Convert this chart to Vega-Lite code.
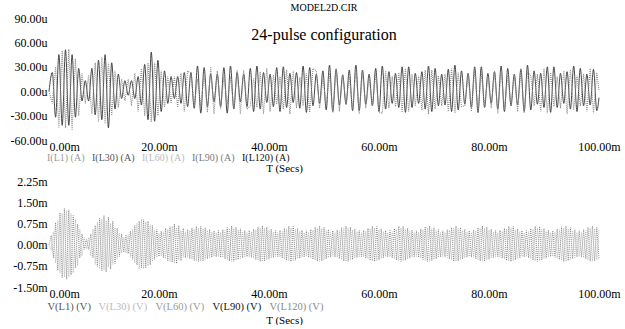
{
"$schema":"https://vega.github.io/schema/vega-lite/v6.json",
"background":"white",
"padding":{"left":10,"top":3,"right":0,"bottom":0},
"spacing":2,
"config":{"view":{"stroke":null},"font":"Liberation Serif"},
"resolve":{"scale":{"color":"independent"},"legend":{"color":"independent"}},
"datasets":{
"top":[
{"t":0,"a":0,"b":0},{"t":0.6,"a":23,"b":-15},{"t":1.2,"a":-32,"b":30},{"t":1.8,"a":45,"b":-45},{"t":2.4,"a":-42,"b":50},{"t":3,"a":51,"b":-45},{"t":3.6,"a":-42,"b":52},{"t":4.2,"a":45,"b":-48},{"t":4.8,"a":-32,"b":40},{"t":5.4,"a":28,"b":-30},{"t":6,"a":-12,"b":22},{"t":6.6,"a":13,"b":-15},{"t":7.2,"a":-12,"b":20},{"t":7.8,"a":28,"b":-28},{"t":8.4,"a":-29,"b":35},{"t":9,"a":38,"b":-38},{"t":9.6,"a":-35,"b":42},{"t":10.2,"a":45,"b":-40},{"t":10.8,"a":-45,"b":35},{"t":11.4,"a":35,"b":-30},{"t":12,"a":-22,"b":25},{"t":12.6,"a":21,"b":-20},{"t":13.2,"a":-9,"b":15},{"t":13.8,"a":13,"b":-12},{"t":14.4,"a":-5,"b":15},{"t":15,"a":13,"b":-18},{"t":15.6,"a":-9,"b":22},{"t":16.2,"a":18,"b":-25},{"t":16.8,"a":-17,"b":28},{"t":17.4,"a":33,"b":-30},{"t":18,"a":-35,"b":35},{"t":18.6,"a":48,"b":-38},{"t":19.2,"a":-37,"b":35},{"t":19.8,"a":38,"b":-30},{"t":20.4,"a":-25,"b":25},{"t":21,"a":25,"b":-20},{"t":21.6,"a":-15,"b":18},{"t":22.2,"a":18,"b":-15},{"t":22.8,"a":-9,"b":18},{"t":23.4,"a":18,"b":-20},{"t":24,"a":-15,"b":22},{"t":24.6,"a":23,"b":-25},{"t":25.2,"a":-19,"b":25},{"t":25.8,"a":23,"b":22},{"t":26.4,"a":-21,"b":-18},{"t":27,"a":31,"b":15},{"t":27.6,"a":-27,"b":-18},{"t":28.2,"a":29,"b":22},{"t":28.8,"a":-19,"b":-26},{"t":29.4,"a":21,"b":30},{"t":30,"a":-13,"b":-28},{"t":30.6,"a":21,"b":25},{"t":31.2,"a":-19,"b":-22},{"t":31.8,"a":29,"b":18},{"t":32.4,"a":-27,"b":-16},{"t":33,"a":31,"b":18},{"t":33.6,"a":-22,"b":-22},{"t":34.2,"a":23,"b":26},{"t":34.8,"a":-13,"b":-28},{"t":35.4,"a":21,"b":26},{"t":36,"a":-19,"b":-22},{"t":36.6,"a":28,"b":-18},{"t":37.2,"a":-25,"b":16},{"t":37.8,"a":31,"b":-20},{"t":38.4,"a":-22,"b":24},{"t":39,"a":23,"b":-28},{"t":39.6,"a":-14,"b":28},{"t":40.2,"a":21,"b":-25},{"t":40.8,"a":-19,"b":20},{"t":41.4,"a":29,"b":-16},{"t":42,"a":-25,"b":18},{"t":42.6,"a":30,"b":-22},{"t":43.2,"a":-20,"b":26},{"t":43.8,"a":22,"b":-28},{"t":44.4,"a":-14,"b":25},{"t":45,"a":23,"b":-21},{"t":45.6,"a":-21,"b":17},{"t":46.2,"a":31,"b":-18},{"t":46.8,"a":-26,"b":22},{"t":47.4,"a":29,"b":-26},{"t":48,"a":-18,"b":28},{"t":48.6,"a":21,"b":25},{"t":49.2,"a":-15,"b":-21},{"t":49.8,"a":25,"b":17},{"t":50.4,"a":-23,"b":-18},{"t":51,"a":32,"b":22},{"t":51.6,"a":-25,"b":-26},{"t":52.2,"a":27,"b":28},{"t":52.8,"a":-17,"b":-25},{"t":53.4,"a":20,"b":21},{"t":54,"a":-16,"b":-17},{"t":54.6,"a":26,"b":18},{"t":55.2,"a":-24,"b":-22},{"t":55.8,"a":32,"b":26},{"t":56.4,"a":-24,"b":-28},{"t":57,"a":26,"b":25},{"t":57.6,"a":-16,"b":-21},{"t":58.2,"a":21,"b":17},{"t":58.8,"a":-18,"b":-18},{"t":59.4,"a":28,"b":22},{"t":60,"a":-25,"b":-26},{"t":60.6,"a":31,"b":-27},{"t":61.2,"a":-22,"b":25},{"t":61.8,"a":24,"b":-21},{"t":62.4,"a":-15,"b":18},{"t":63,"a":22,"b":-19},{"t":63.6,"a":-20,"b":23},{"t":64.2,"a":30,"b":-26},{"t":64.8,"a":-26,"b":28},{"t":65.4,"a":30,"b":-25},{"t":66,"a":-20,"b":21},{"t":66.6,"a":22,"b":-18},{"t":67.2,"a":-15,"b":19},{"t":67.8,"a":24,"b":-23},{"t":68.4,"a":-22,"b":26},{"t":69,"a":31,"b":-28},{"t":69.6,"a":-25,"b":26},{"t":70.2,"a":28,"b":-22},{"t":70.8,"a":-18,"b":19},{"t":71.4,"a":21,"b":-18},{"t":72,"a":-17,"b":21},{"t":72.6,"a":27,"b":-25},{"t":73.2,"a":-25,"b":28},{"t":73.8,"a":32,"b":-27},{"t":74.4,"a":-23,"b":23},{"t":75,"a":25,"b":-19},{"t":75.6,"a":-16,"b":-18},{"t":76.2,"a":22,"b":21},{"t":76.8,"a":-20,"b":-25},{"t":77.4,"a":30,"b":28},{"t":78,"a":-26,"b":-27},{"t":78.6,"a":30,"b":23},{"t":79.2,"a":-20,"b":-19},{"t":79.8,"a":22,"b":18},{"t":80.4,"a":-15,"b":-21},{"t":81,"a":24,"b":25},{"t":81.6,"a":-22,"b":-28},{"t":82.2,"a":31,"b":27},{"t":82.8,"a":-25,"b":-23},{"t":83.4,"a":28,"b":19},{"t":84,"a":-18,"b":-18},{"t":84.6,"a":21,"b":21},{"t":85.2,"a":-17,"b":-25},{"t":85.8,"a":27,"b":28},{"t":86.4,"a":-25,"b":-27},{"t":87,"a":32,"b":23},{"t":87.6,"a":-23,"b":19},{"t":88.2,"a":25,"b":-18},{"t":88.8,"a":-16,"b":21},{"t":89.4,"a":22,"b":-25},{"t":90,"a":-20,"b":28},{"t":90.6,"a":30,"b":-27},{"t":91.2,"a":-26,"b":23},{"t":91.8,"a":30,"b":-19},{"t":92.4,"a":-20,"b":18},{"t":93,"a":22,"b":-21},{"t":93.6,"a":-15,"b":25},{"t":94.2,"a":24,"b":-28},{"t":94.8,"a":-22,"b":27},{"t":95.4,"a":31,"b":-23},{"t":96,"a":-25,"b":19},{"t":96.6,"a":28,"b":-18},{"t":97.2,"a":-18,"b":21},{"t":97.8,"a":21,"b":-25},{"t":98.4,"a":-17,"b":28},{"t":99,"a":27,"b":-27},{"t":99.6,"a":-24,"b":23},{"t":100,"a":-8,"b":0}
],
"bot":[
{"t":0,"c":0,"d":0},{"t":0.4,"c":0.33,"d":-0.2},{"t":0.8,"c":-0.47,"d":0.45},{"t":1.2,"c":0.78,"d":-0.65},{"t":1.6,"c":-0.92,"d":0.85},{"t":2,"c":1.13,"d":-1},{"t":2.4,"c":-1.17,"d":1.1},{"t":2.8,"c":1.28,"d":-1.15},{"t":3.2,"c":-1.22,"d":1.2},{"t":3.6,"c":1.23,"d":-1.15},{"t":4,"c":-1.07,"d":1.1},{"t":4.4,"c":1.03,"d":-1},{"t":4.8,"c":-0.82,"d":0.9},{"t":5.2,"c":0.73,"d":-0.75},{"t":5.6,"c":-0.47,"d":0.55},{"t":6,"c":0.38,"d":-0.4},{"t":6.4,"c":-0.17,"d":0.25},{"t":6.8,"c":0.18,"d":-0.15},{"t":7.2,"c":-0.17,"d":0.25},{"t":7.6,"c":0.38,"d":-0.4},{"t":8,"c":-0.47,"d":0.55},{"t":8.4,"c":0.68,"d":-0.7},{"t":8.8,"c":-0.77,"d":0.8},{"t":9.2,"c":0.93,"d":-0.85},{"t":9.6,"c":-0.92,"d":0.9},{"t":10,"c":1.03,"d":-0.9},{"t":10.4,"c":-0.97,"d":0.85},{"t":10.8,"c":0.98,"d":-0.8},{"t":11.2,"c":-0.87,"d":0.75},{"t":11.6,"c":0.83,"d":-0.7},{"t":12,"c":-0.67,"d":0.6},{"t":12.4,"c":0.58,"d":-0.5},{"t":12.8,"c":-0.42,"d":0.4},{"t":13.2,"c":0.38,"d":-0.3},{"t":13.6,"c":-0.27,"d":0.25},{"t":14,"c":0.33,"d":-0.3},{"t":14.4,"c":-0.32,"d":0.35},{"t":14.8,"c":0.48,"d":-0.45},{"t":15.2,"c":-0.52,"d":0.55},{"t":15.6,"c":0.68,"d":-0.65},{"t":16,"c":-0.72,"d":0.75},{"t":16.4,"c":0.83,"d":-0.85},{"t":16.8,"c":-0.82,"d":0.9},{"t":17.2,"c":0.88,"d":-0.85},{"t":17.6,"c":-0.82,"d":0.8},{"t":18,"c":0.83,"d":-0.75},{"t":18.4,"c":-0.72,"d":0.7},{"t":18.8,"c":0.68,"d":-0.6},{"t":19.2,"c":-0.52,"d":0.5},{"t":19.6,"c":0.53,"d":-0.45},{"t":20,"c":-0.42,"d":0.4},{"t":20.4,"c":0.48,"d":-0.4},{"t":20.8,"c":-0.47,"d":0.45},{"t":21.2,"c":0.58,"d":-0.5},{"t":21.6,"c":-0.57,"d":0.55},{"t":22,"c":0.63,"d":-0.6},{"t":22.4,"c":-0.62,"d":0.65},{"t":22.8,"c":0.73,"d":-0.65},{"t":23.2,"c":-0.67,"d":0.6},{"t":23.6,"c":0.68,"d":-0.55},{"t":24,"c":-0.57,"d":0.5},{"t":24.4,"c":0.58,"d":-0.45},{"t":24.8,"c":-0.47,"d":0.45},
{"t":25.2,"c":0.53,"d":-0.46},{"t":25.6,"c":-0.5,"d":0.49},{"t":26,"c":0.59,"d":-0.52},{"t":26.4,"c":-0.57,"d":0.56},{"t":26.8,"c":0.65,"d":-0.58},{"t":27.2,"c":-0.6,"d":0.59},{"t":27.6,"c":0.65,"d":-0.58},{"t":28,"c":-0.57,"d":0.56},{"t":28.4,"c":0.6,"d":-0.53},{"t":28.8,"c":-0.51,"d":0.5},{"t":29.2,"c":0.54,"d":-0.47},{"t":29.6,"c":-0.45,"d":0.44},{"t":30,"c":0.49,"d":-0.42},{"t":30.4,"c":-0.43,"d":0.42},{"t":30.8,"c":0.5,"d":-0.43},{"t":31.2,"c":-0.45,"d":0.44},{"t":31.6,"c":0.53,"d":-0.46},{"t":32,"c":-0.51,"d":0.5},{"t":32.4,"c":0.61,"d":-0.54},{"t":32.8,"c":-0.58,"d":0.57},{"t":33.2,"c":0.66,"d":-0.59},{"t":33.6,"c":-0.59,"d":0.58},{"t":34,"c":0.62,"d":-0.55},{"t":34.4,"c":-0.53,"d":0.52},{"t":34.8,"c":0.56,"d":-0.49},{"t":35.2,"c":-0.47,"d":0.46},{"t":35.6,"c":0.5,"d":-0.43},{"t":36,"c":-0.43,"d":0.42},{"t":36.4,"c":0.5,"d":-0.43},{"t":36.8,"c":-0.46,"d":0.45},{"t":37.2,"c":0.55,"d":-0.48},{"t":37.6,"c":-0.53,"d":0.52},{"t":38,"c":0.63,"d":-0.56},{"t":38.4,"c":-0.6,"d":0.59},{"t":38.8,"c":0.67,"d":-0.6},{"t":39.2,"c":-0.59,"d":0.58},{"t":39.6,"c":0.62,"d":-0.55},{"t":40,"c":-0.52,"d":0.51},{"t":40.4,"c":0.55,"d":-0.48},{"t":40.8,"c":-0.46,"d":0.45},{"t":41.2,"c":0.5,"d":-0.43},{"t":41.6,"c":-0.43,"d":0.42},{"t":42,"c":0.51,"d":-0.44},{"t":42.4,"c":-0.48,"d":0.47},{"t":42.8,"c":0.58,"d":-0.51},{"t":43.2,"c":-0.56,"d":0.55},{"t":43.6,"c":0.65,"d":-0.58},{"t":44,"c":-0.6,"d":0.59},{"t":44.4,"c":0.64,"d":-0.57},{"t":44.8,"c":-0.55,"d":0.54},{"t":45.2,"c":0.57,"d":-0.5},{"t":45.6,"c":-0.48,"d":0.47},{"t":46,"c":0.51,"d":-0.44},{"t":46.4,"c":-0.43,"d":0.42},{"t":46.8,"c":0.49,"d":-0.42},{"t":47.2,"c":-0.45,"d":0.44},{"t":47.6,"c":0.54,"d":-0.47},{"t":48,"c":-0.52,"d":0.51},{"t":48.4,"c":0.62,"d":-0.55},{"t":48.8,"c":-0.59,"d":0.58},{"t":49.2,"c":0.66,"d":-0.59},{"t":49.6,"c":-0.58,"d":0.57},{"t":50,"c":0.61,"d":-0.54},{"t":50.4,"c":-0.51,"d":0.5},{"t":50.8,"c":0.53,"d":-0.46},{"t":51.2,"c":-0.44,"d":0.43},{"t":51.6,"c":0.49,"d":-0.42},{"t":52,"c":-0.44,"d":0.43},{"t":52.4,"c":0.52,"d":-0.45},{"t":52.8,"c":-0.5,"d":0.49},{"t":53.2,"c":0.6,"d":-0.53},{"t":53.6,"c":-0.58,"d":0.57},{"t":54,"c":0.66,"d":-0.59},{"t":54.4,"c":-0.59,"d":0.58},{"t":54.8,"c":0.62,"d":-0.55},{"t":55.2,"c":-0.53,"d":0.52},{"t":55.6,"c":0.55,"d":-0.48},{"t":56,"c":-0.46,"d":0.45},{"t":56.4,"c":0.5,"d":-0.43},{"t":56.8,"c":-0.43,"d":0.42},{"t":57.2,"c":0.51,"d":-0.44},{"t":57.6,"c":-0.48,"d":0.47},{"t":58,"c":0.58,"d":-0.51},{"t":58.4,"c":-0.56,"d":0.55},{"t":58.8,"c":0.65,"d":-0.58},{"t":59.2,"c":-0.6,"d":0.59},{"t":59.6,"c":0.64,"d":-0.57},{"t":60,"c":-0.54,"d":0.53},{"t":60.4,"c":0.56,"d":-0.49},{"t":60.8,"c":-0.47,"d":0.46},{"t":61.2,"c":0.5,"d":-0.43},{"t":61.6,"c":-0.43,"d":0.42},{"t":62,"c":0.5,"d":-0.43},{"t":62.4,"c":-0.47,"d":0.46},{"t":62.8,"c":0.57,"d":-0.5},{"t":63.2,"c":-0.55,"d":0.54},{"t":63.6,"c":0.65,"d":-0.58},{"t":64,"c":-0.6,"d":0.59},{"t":64.4,"c":0.65,"d":-0.58},{"t":64.8,"c":-0.55,"d":0.54},{"t":65.2,"c":0.58,"d":-0.51},{"t":65.6,"c":-0.48,"d":0.47},{"t":66,"c":0.51,"d":-0.44},{"t":66.4,"c":-0.43,"d":0.42},{"t":66.8,"c":0.49,"d":-0.42},{"t":67.2,"c":-0.45,"d":0.44},{"t":67.6,"c":0.55,"d":-0.48},{"t":68,"c":-0.53,"d":0.52},{"t":68.4,"c":0.63,"d":-0.56},{"t":68.8,"c":-0.6,"d":0.59},{"t":69.2,"c":0.66,"d":-0.59},{"t":69.6,"c":-0.57,"d":0.56},{"t":70,"c":0.6,"d":-0.53},{"t":70.4,"c":-0.5,"d":0.49},{"t":70.8,"c":0.53,"d":-0.46},{"t":71.2,"c":-0.44,"d":0.43},{"t":71.6,"c":0.49,"d":-0.42},{"t":72,"c":-0.44,"d":0.43},{"t":72.4,"c":0.53,"d":-0.46},{"t":72.8,"c":-0.51,"d":0.5},{"t":73.2,"c":0.61,"d":-0.54},{"t":73.6,"c":-0.59,"d":0.58},{"t":74,"c":0.66,"d":-0.59},{"t":74.4,"c":-0.58,"d":0.57},{"t":74.8,"c":0.61,"d":-0.54},{"t":75.2,"c":-0.51,"d":0.5},{"t":75.6,"c":0.54,"d":-0.47},{"t":76,"c":-0.45,"d":0.44},{"t":76.4,"c":0.49,"d":-0.42},{"t":76.8,"c":-0.44,"d":0.43},{"t":77.2,"c":0.52,"d":-0.45},{"t":77.6,"c":-0.5,"d":0.49},{"t":78,"c":0.6,"d":-0.53},{"t":78.4,"c":-0.58,"d":0.57},{"t":78.8,"c":0.66,"d":-0.59},{"t":79.2,"c":-0.59,"d":0.58},{"t":79.6,"c":0.62,"d":-0.55},{"t":80,"c":-0.52,"d":0.51},{"t":80.4,"c":0.55,"d":-0.48},{"t":80.8,"c":-0.46,"d":0.45},{"t":81.2,"c":0.5,"d":-0.43},{"t":81.6,"c":-0.43,"d":0.42},{"t":82,"c":0.51,"d":-0.44},{"t":82.4,"c":-0.48,"d":0.47},{"t":82.8,"c":0.58,"d":-0.51},{"t":83.2,"c":-0.56,"d":0.55},{"t":83.6,"c":0.65,"d":-0.58},{"t":84,"c":-0.6,"d":0.59},{"t":84.4,"c":0.64,"d":-0.57},{"t":84.8,"c":-0.54,"d":0.53},{"t":85.2,"c":0.56,"d":-0.49},{"t":85.6,"c":-0.47,"d":0.46},{"t":86,"c":0.5,"d":-0.43},{"t":86.4,"c":-0.43,"d":0.42},{"t":86.8,"c":0.5,"d":-0.43},{"t":87.2,"c":-0.47,"d":0.46},{"t":87.6,"c":0.57,"d":-0.5},{"t":88,"c":-0.55,"d":0.54},{"t":88.4,"c":0.65,"d":-0.58},{"t":88.8,"c":-0.6,"d":0.59},{"t":89.2,"c":0.64,"d":-0.57},{"t":89.6,"c":-0.55,"d":0.54},{"t":90,"c":0.57,"d":-0.5},{"t":90.4,"c":-0.48,"d":0.47},{"t":90.8,"c":0.51,"d":-0.44},{"t":91.2,"c":-0.43,"d":0.42},{"t":91.6,"c":0.49,"d":-0.42},{"t":92,"c":-0.45,"d":0.44},{"t":92.4,"c":0.55,"d":-0.48},{"t":92.8,"c":-0.53,"d":0.52},{"t":93.2,"c":0.63,"d":-0.56},{"t":93.6,"c":-0.6,"d":0.59},{"t":94,"c":0.66,"d":-0.59},{"t":94.4,"c":-0.57,"d":0.56},{"t":94.8,"c":0.6,"d":-0.53},{"t":95.2,"c":-0.5,"d":0.49},{"t":95.6,"c":0.53,"d":-0.46},{"t":96,"c":-0.44,"d":0.43},{"t":96.4,"c":0.49,"d":-0.42},{"t":96.8,"c":-0.44,"d":0.43},{"t":97.2,"c":0.53,"d":-0.46},{"t":97.6,"c":-0.51,"d":0.5},{"t":98,"c":0.61,"d":-0.54},{"t":98.4,"c":-0.59,"d":0.58},{"t":98.8,"c":0.66,"d":-0.59},{"t":99.2,"c":-0.58,"d":0.57},{"t":99.6,"c":0.61,"d":-0.54},{"t":100,"c":-0.52,"d":0.51}
]},
"vconcat":[
{
"width":550,"height":122,
"title":{"text":"MODEL2D.CIR","subtitle":"24-pulse configuration","font":"Liberation Serif","fontSize":10,"fontWeight":"normal","color":"#000","subtitleFont":"Liberation Serif","subtitleFontSize":16,"subtitleColor":"#000","subtitlePadding":14,"anchor":"middle","offset":-31},
"data":{"name":"top"},
"layer":[
{"mark":{"type":"line","strokeWidth":0.9,"interpolate":"monotone"},
"encoding":{
"x":{"field":"t","type":"quantitative","scale":{"domain":[0,100],"nice":false},
"axis":{"values":[0,20,40,60,80,100],"tickCount":20,"labelExpr":"format(datum.value,'.2f')+'m'","labelAlign":{"condition":{"test":"datum.value == 0","value":"left"},"value":"center"},"ticks":false,"domain":false,"grid":false,"labelPadding":1,"labelFont":"Liberation Serif","labelFontSize":12,"labelColor":"#000","labelFlush":false,"labelOverlap":false,"title":"T (Secs)","titleFont":"Liberation Serif","titleFontSize":11,"titleFontWeight":"normal","titleColor":"#000","titleX":235,"titleY":22}},
"y":{"field":"a","type":"quantitative","scale":{"domain":[-60,90],"nice":false},
"axis":{"values":[-60,-30,0,30,60,90],"tickCount":20,"labelExpr":"replace(format(datum.value,'.2f'),'\u2212','-')+'u'","ticks":false,"domain":false,"grid":false,"labelPadding":2,"labelOverlap":false,"labelFont":"Liberation Serif","labelFontSize":12,"labelColor":"#000","title":null}},
"color":{"datum":"I(L120) (A)","type":"nominal","scale":{"domain":["I(L1) (A)","I(L30) (A)","I(L60) (A)","I(L90) (A)","I(L120) (A)"],"range":["#8c8c8c","#555555","#bbbbbb","#7a7a7a","#333333"]},
"legend":{"orient":"none","legendX":-2,"legendY":135,"padding":0,"gridAlign":"none","direction":"horizontal","title":null,"symbolSize":0,"symbolOpacity":0,"symbolStrokeWidth":0,"labelOffset":-10,"columnPadding":7,"labelFont":"Liberation Serif","labelFontSize":10,"labelColor":{"expr":"datum.value == 'I(L1) (A)' ? '#9a9a9a' : datum.value == 'I(L30) (A)' ? '#555555' : datum.value == 'I(L60) (A)' ? '#bbbbbb' : datum.value == 'I(L90) (A)' ? '#7a7a7a' : '#111111'"}}}}},
{"mark":{"type":"line","strokeWidth":1.1,"strokeDash":[1,1]},
"encoding":{"x":{"field":"t","type":"quantitative"},"y":{"field":"b","type":"quantitative"},"color":{"datum":"I(L1) (A)","type":"nominal"}}}
]
},
{
"width":550,"height":106,
"data":{"name":"bot"},
"layer":[
{"mark":{"type":"line","strokeWidth":0.7,"strokeDash":[1,1]},
"encoding":{
"x":{"field":"t","type":"quantitative","scale":{"domain":[0,100],"nice":false},
"axis":{"values":[0,20,40,60,80,100],"tickCount":20,"labelExpr":"format(datum.value,'.2f')+'m'","labelAlign":{"condition":{"test":"datum.value == 0","value":"left"},"value":"center"},"ticks":false,"domain":false,"grid":false,"labelPadding":1,"labelFont":"Liberation Serif","labelFontSize":12,"labelColor":"#000","labelFlush":false,"labelOverlap":false,"title":"T (Secs)","titleFont":"Liberation Serif","titleFontSize":11,"titleFontWeight":"normal","titleColor":"#000","titleX":235,"titleY":27}},
"y":{"field":"c","type":"quantitative","scale":{"domain":[-1.5,2.25],"nice":false},
"axis":{"values":[-1.5,-0.75,0,0.75,1.5,2.25],"tickCount":20,"labelExpr":"replace(format(datum.value,'.2f'),'\u2212','-')+'m'","ticks":false,"domain":false,"grid":false,"labelPadding":2,"labelOverlap":false,"labelFont":"Liberation Serif","labelFontSize":12,"labelColor":"#000","title":null}},
"color":{"datum":"V(L1) (V)","type":"nominal","scale":{"domain":["V(L1) (V)","V(L30) (V)","V(L60) (V)","V(L90) (V)","V(L120) (V)"],"range":["#666666","#bbbbbb","#a0a0a0","#111111","#8a8a8a"]},
"legend":{"orient":"none","legendX":-2,"legendY":121,"padding":0,"gridAlign":"none","direction":"horizontal","title":null,"symbolSize":0,"symbolOpacity":0,"symbolStrokeWidth":0,"labelOffset":-10,"columnPadding":7,"labelFont":"Liberation Serif","labelFontSize":10.5,"labelColor":{"expr":"datum.value == 'V(L1) (V)' ? '#555555' : datum.value == 'V(L30) (V)' ? '#bbbbbb' : datum.value == 'V(L60) (V)' ? '#999999' : datum.value == 'V(L90) (V)' ? '#111111' : '#8a8a8a'"}}}}},
{"mark":{"type":"line","strokeWidth":0.7,"strokeDash":[1,1]},
"encoding":{"x":{"field":"t","type":"quantitative"},"y":{"field":"d","type":"quantitative"},"color":{"datum":"V(L60) (V)","type":"nominal"}}}
]
}
]
}
